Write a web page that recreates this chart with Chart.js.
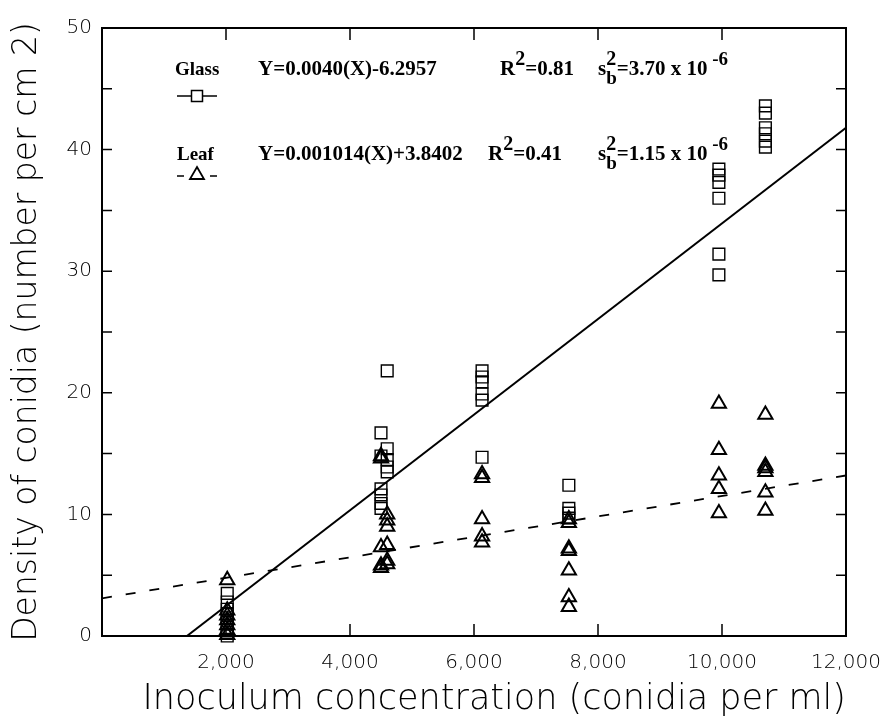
<!DOCTYPE html>
<html>
<head>
<meta charset="utf-8">
<script src="https://cdn.jsdelivr.net/npm/chart.js@4.4.1/dist/chart.umd.min.js"></script>
<style>html,body{margin:0;padding:0;background:#fff}</style>
</head>
<body>
<canvas id="chart" width="883" height="721"></canvas>
<script>
// tick labels
const xTicks = [2000, 4000, 6000, 8000, 10000, 12000];
const yTicks = [0, 10, 20, 30, 40, 50];
const yMinor = [5, 15, 25, 35, 45];

// Glass (squares)
const glassX = [2020, 2020, 2020, 2020, 2020, 2020, 2020, 2020, 2020,
                4500, 4500, 4500, 4500, 4500, 4500,
                4600, 4600, 4600, 4600, 4600,
                6130, 6130, 6130, 6130, 6130, 6130,
                7530, 7530, 7530, 7530,
                9950, 9950, 9950, 9950, 9950, 9950,
                10700, 10700, 10700, 10700, 10700, 10700];
const glassY = [3.5, 2.8, 2.2, 1.8, 1.5, 1.1, 0.7, 0.3, 0.0,
                16.7, 14.8, 12.1, 11.6, 10.9, 10.5,
                21.8, 15.4, 14.5, 13.9, 13.5,
                21.8, 21.3, 20.9, 19.9, 19.4, 14.7,
                12.4, 10.5, 10.1, 9.7,
                38.4, 37.9, 37.3, 36.0, 31.4, 29.7,
                43.6, 43.0, 41.8, 41.3, 40.7, 40.2];

// Leaf (triangles)
const leafX = [2020, 2020, 2020, 2020, 2020, 2020, 2020,
               4500, 4500, 4500, 4500, 4500,
               4600, 4600, 4600, 4600, 4600, 4600,
               6130, 6130, 6130, 6130, 6130,
               7530, 7530, 7530, 7530, 7530, 7530, 7530,
               9950, 9950, 9950, 9950, 9950,
               10700, 10700, 10700, 10700, 10700, 10700];
const leafY = [4.6, 2.1, 1.7, 1.3, 0.9, 0.5, 0.1,
               14.8, 14.6, 7.3, 5.8, 5.6,
               10.0, 9.5, 9.0, 7.5, 6.2, 5.9,
               13.3, 13.0, 9.6, 8.2, 7.7,
               9.6, 9.3, 7.2, 7.0, 5.4, 3.2, 2.4,
               19.1, 15.3, 13.2, 12.1, 10.1,
               18.2, 14.0, 13.8, 13.5, 11.8, 10.3];

// fitted lines as drawn
const glassFitX = [1370, 12000];
const glassFitY = [0, 41.8];
const leafFitX = [0, 12000];
const leafFitY = [3.1, 13.2];

const pts = (xs, ys) => xs.map((x, i) => ({x: x, y: ys[i]}));

const AXIS_FONT = "'DejaVu Sans', sans-serif";
const SERIF = "'Liberation Serif', 'Times New Roman', serif";

// draws a run of text pieces; piece = [text, dy, size, sameX]
function drawRun(ctx, x, y, pieces) {
    let cx = x;
    let lastX = x;
    pieces.forEach(p => {
        ctx.font = 'bold ' + p[2] + 'px ' + SERIF;
        const px = p[3] ? lastX : cx;
        ctx.fillText(p[0], px, y + p[1]);
        const w = ctx.measureText(p[0]).width;
        if (!p[3]) { lastX = cx; cx += w; }
        else { cx = Math.max(cx, px + w); }
    });
}

const framePlugin = {
    id: 'frame',
    afterDatasetsDraw(chart) {
        const ctx = chart.ctx;
        const a = chart.chartArea;
        const xs = chart.scales.x, ys = chart.scales.y;
        ctx.save();
        ctx.strokeStyle = '#000';
        ctx.lineWidth = 2;
        ctx.strokeRect(a.left, a.top, a.right - a.left, a.bottom - a.top);
        ctx.lineWidth = 1.5;
        ctx.beginPath();
        xTicks.slice(0, -1).forEach(v => {
            const px = xs.getPixelForValue(v);
            ctx.moveTo(px, a.bottom); ctx.lineTo(px, a.bottom - 12);
            ctx.moveTo(px, a.top); ctx.lineTo(px, a.top + 12);
        });
        yTicks.slice(1, -1).concat(yMinor).forEach(v => {
            const py = ys.getPixelForValue(v);
            ctx.moveTo(a.left, py); ctx.lineTo(a.left + 10, py);
            ctx.moveTo(a.right, py); ctx.lineTo(a.right - 10, py);
        });
        ctx.stroke();
        ctx.restore();
    },
    afterDraw(chart) {
        const ctx = chart.ctx;
        ctx.save();
        ctx.fillStyle = '#000';
        ctx.textBaseline = 'alphabetic';
        ctx.textAlign = 'left';
        // row 1
        drawRun(ctx, 175, 75, [['Glass', 0, 19]]);
        drawRun(ctx, 258, 75, [['Y=0.0040(X)-6.2957', 0, 21]]);
        drawRun(ctx, 500, 75, [['R', 0, 21], ['2', -10, 20], ['=0.81', 0, 21]]);
        drawRun(ctx, 598, 75, [['s', 0, 21], ['2', -10, 20], ['b', 9, 19, true], ['=3.70 x 10', 0, 21], [' -6', -10, 19]]);
        // row 2
        drawRun(ctx, 177, 160, [['Leaf', 0, 19]]);
        drawRun(ctx, 258, 160, [['Y=0.001014(X)+3.8402', 0, 21]]);
        drawRun(ctx, 488, 160, [['R', 0, 21], ['2', -10, 20], ['=0.41', 0, 21]]);
        drawRun(ctx, 598, 160, [['s', 0, 21], ['2', -10, 20], ['b', 9, 19, true], ['=1.15 x 10', 0, 21], [' -6', -10, 19]]);

        // legend samples
        ctx.strokeStyle = '#000';
        ctx.lineWidth = 1.5;
        ctx.beginPath();
        ctx.moveTo(177, 96); ctx.lineTo(217, 96);
        ctx.stroke();
        ctx.fillStyle = '#fff';
        ctx.fillRect(191.5, 90.5, 11, 11);
        ctx.strokeRect(191.5, 90.5, 11, 11);
        ctx.beginPath();
        ctx.moveTo(177, 176); ctx.lineTo(184, 176);
        ctx.moveTo(210, 176); ctx.lineTo(217, 176);
        ctx.stroke();
        ctx.lineWidth = 1.8;
        ctx.beginPath();
        ctx.moveTo(197, 167); ctx.lineTo(204, 179); ctx.lineTo(190, 179); ctx.closePath();
        ctx.stroke();
        ctx.restore();
    }
};

new Chart(document.getElementById('chart'), {
    type: 'scatter',
    data: {
        datasets: [
            {
                label: 'Glass fit',
                data: pts(glassFitX, glassFitY),
                showLine: true,
                borderColor: '#000',
                borderWidth: 2,
                pointRadius: 0
            },
            {
                label: 'Leaf fit',
                data: pts(leafFitX, leafFitY),
                showLine: true,
                borderColor: '#000',
                borderWidth: 1.8,
                borderDash: [10, 14],
                pointRadius: 0
            },
            {
                label: 'Glass',
                data: pts(glassX, glassY),
                pointStyle: 'rect',
                pointRadius: 8.3,
                borderColor: '#000',
                backgroundColor: 'rgba(0,0,0,0)',
                pointBorderWidth: 1.4,
                clip: false
            },
            {
                label: 'Leaf',
                data: pts(leafX, leafY),
                pointStyle: 'triangle',
                pointRadius: 8.2,
                borderColor: '#000',
                backgroundColor: 'rgba(0,0,0,0)',
                pointBorderWidth: 2,
                clip: false
            }
        ]
    },
    options: {
        responsive: false,
        animation: false,
        events: [],
        layout: {padding: {top: 28, right: 37, left: 0, bottom: 0}},
        plugins: {
            legend: {display: false},
            tooltip: {enabled: false}
        },
        scales: {
            x: {
                type: 'linear',
                min: 0,
                max: 12000,
                afterFit: s => { s.height = 85; s.paddingLeft = 0; s.paddingRight = 0; },
                afterBuildTicks: s => { s.ticks = xTicks.map(v => ({value: v})); },
                grid: {display: false, drawTicks: false},
                border: {display: false},
                ticks: {
                    padding: 15,
                    color: '#000',
                    maxRotation: 0,
                    font: {family: AXIS_FONT, size: 20, weight: 200},
                    callback: v => v.toLocaleString('en-US')
                },
                title: {
                    display: true,
                    align: 'end',
                    text: 'Inoculum concentration (conidia per ml)',
                    color: '#000',
                    font: {family: AXIS_FONT, size: 35, weight: 200},
                    padding: {top: 0, bottom: 0}
                }
            },
            y: {
                type: 'linear',
                min: 0,
                max: 50,
                afterFit: s => { s.width = 102; },
                afterBuildTicks: s => { s.ticks = yTicks.map(v => ({value: v})); },
                grid: {display: false, drawTicks: false},
                border: {display: false},
                ticks: {
                    padding: 10,
                    color: '#000',
                    font: {family: AXIS_FONT, size: 20, weight: 200}
                },
                title: {
                    display: true,
                    text: 'Density of conidia (number per cm 2)',
                    color: '#000',
                    font: {family: AXIS_FONT, size: 33, weight: 200},
                    padding: {top: 8, bottom: 0}
                }
            }
        }
    },
    plugins: [framePlugin]
});
</script>
</body>
</html>
